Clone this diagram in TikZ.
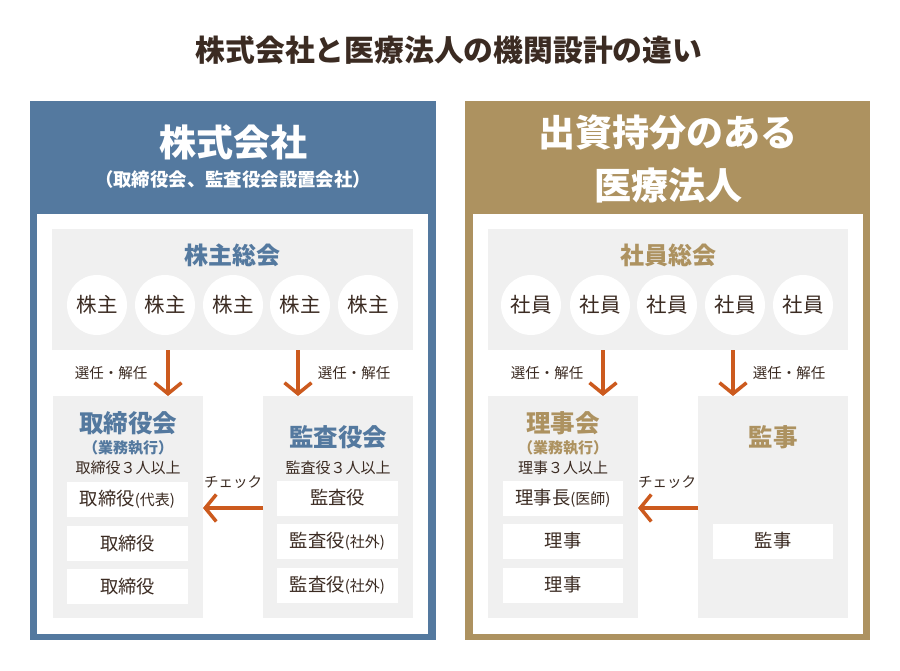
\documentclass[tikz,border=0pt]{standalone}
\usepackage{fontspec}
\setmainfont{Noto Sans CJK JP}
\usetikzlibrary{arrows.meta}
\definecolor{kaisyablue}{HTML}{54799F}
\definecolor{iryogold}{HTML}{AD9260}
\definecolor{boxgray}{HTML}{F0F0F0}
\definecolor{arrorange}{HTML}{CC5A1E}
\definecolor{inkbrown}{HTML}{3B2B22}
\newcommand{\fsz}[1]{\fontsize{#1}{#1}\selectfont}
\tikzset{
  plate/.style={inner sep=0pt, outer sep=0pt},
  pill/.style={plate, circle, fill=white, minimum size=60pt, text=inkbrown, font=\fsz{20.5}},
  slot/.style={plate, fill=white, minimum width=121pt, minimum height=35pt, text=inkbrown, font=\fsz{18.3}},
  pick/.style={inkbrown, font=\fsz{14.5}},
  arr/.style={draw=arrorange, line width=3.5pt, -{Straight Barb[length=11pt,width=27pt]}}
}
\begin{document}
\begin{tikzpicture}[x=1pt,y=-1pt]
\useasboundingbox[fill=white] (0,0) rectangle (900,671);
\node[text=inkbrown, font=\fsz{29.8}\bfseries] (ttl) at (449,50) {株式会社と医療法人の機関設計の違い};

\node[plate, fill=kaisyablue, minimum width=406pt, minimum height=539pt] (kp) at (233,370.5) {};
\node[plate, fill=white, minimum width=391pt, minimum height=420pt] (kw) at (232.5,424) {};
\node[text=white, font=\fsz{37}\bfseries] (kt) at (233,142) {株式会社};
\node[text=white, font=\fsz{18.4}\bfseries] (ks) at (233,180) {（取締役会、監査役会設置会社）};

\node[plate, fill=boxgray, minimum width=361pt, minimum height=121pt] (gm) at (232.5,289.5) {};
\node[text=kaisyablue, font=\fsz{24}\bfseries] (gmt) at (232.5,255) {株主総会};
\node[pill] (k1) at (97,305) {株主};
\node[pill] (k2) at (165,305) {株主};
\node[pill] (k3) at (233,305) {株主};
\node[pill] (k4) at (300,305) {株主};
\node[pill] (k5) at (368,305) {株主};

\node[plate, fill=boxgray, minimum width=150pt, minimum height=222pt] (tb) at (128,507) {};
\node[text=kaisyablue, font=\fsz{24.5}\bfseries] (tbt) at (128,423) {取締役会};
\node[text=kaisyablue, font=\fsz{15}\bfseries] (tbg) at (128,448) {（業務執行）};
\node[text=inkbrown, font=\fsz{15}] (tbn) at (128,468) {取締役３人以上};
\node[slot] (t1) at (127.5,499.5) {取締役{\fsz{15}(代表)}};
\node[slot] (t2) at (127.5,543.5) {取締役};
\node[slot] (t3) at (127.5,586.5) {取締役};

\node[plate, fill=boxgray, minimum width=150pt, minimum height=222pt] (ka) at (338,507) {};
\node[text=kaisyablue, font=\fsz{24.5}\bfseries] (kat) at (338,437) {監査役会};
\node[text=inkbrown, font=\fsz{15}] (kan) at (338,468) {監査役３人以上};
\node[slot] (a1) at (337.5,498) {監査役};
\node[slot] (a2) at (337.5,541) {監査役{\fsz{15}(社外)}};
\node[slot] (a3) at (337.5,585) {監査役{\fsz{15}(社外)}};

\coordinate (kx1) at (168,0);
\coordinate (kx2) at (298,0);
\coordinate (ky) at (0,508);
\draw[arr] (gm.south -| kx1) -- (tb.north -| kx1);
\draw[arr] (gm.south -| kx2) -- (ka.north -| kx2);
\draw[arr] (ka.west |- ky) -- (tb.east |- ky);
\node[pick] (ks1) at (111,373) {選任・解任};
\node[pick] (ks2) at (354,373) {選任・解任};
\node[pick] (kc) at (233,482) {チェック};

\node[plate, fill=iryogold, minimum width=405pt, minimum height=539pt] (ip) at (667.5,370.5) {};
\node[plate, fill=white, minimum width=390pt, minimum height=420pt] (iw) at (668,424) {};
\node[text=white, font=\fsz{37}\bfseries] (it1) at (668,133) {出資持分のある};
\node[text=white, font=\fsz{37}\bfseries] (it2) at (668,185) {医療法人};

\node[plate, fill=boxgray, minimum width=360pt, minimum height=121pt] (sm) at (668,289.5) {};
\node[text=iryogold, font=\fsz{24}\bfseries] (smt) at (668,255) {社員総会};
\node[pill] (s1) at (531,305) {社員};
\node[pill] (s2) at (600,305) {社員};
\node[pill] (s3) at (667,305) {社員};
\node[pill] (s4) at (735,305) {社員};
\node[pill] (s5) at (803,305) {社員};

\node[plate, fill=boxgray, minimum width=150pt, minimum height=222pt] (rj) at (563,507) {};
\node[text=iryogold, font=\fsz{24.5}\bfseries] (rjt) at (563,423) {理事会};
\node[text=iryogold, font=\fsz{15}\bfseries] (rjg) at (563,448) {（業務執行）};
\node[text=inkbrown, font=\fsz{15}] (rjn) at (563,468) {理事３人以上};
\node[slot, minimum width=120pt] (r1) at (563,498) {理事長{\fsz{15}(医師)}};
\node[slot, minimum width=120pt] (r2) at (563,541) {理事};
\node[slot, minimum width=120pt] (r3) at (563,585) {理事};

\node[plate, fill=boxgray, minimum width=150pt, minimum height=222pt] (kj) at (773,507) {};
\node[text=iryogold, font=\fsz{24.5}\bfseries] (kjt) at (773,437) {監事};
\node[slot, minimum width=120pt] (j1) at (773,541) {監事};

\coordinate (ix1) at (603,0);
\coordinate (ix2) at (733,0);
\draw[arr] (sm.south -| ix1) -- (rj.north -| ix1);
\draw[arr] (sm.south -| ix2) -- (kj.north -| ix2);
\draw[arr] (kj.west |- ky) -- (rj.east |- ky);
\node[pick] (is1) at (547,373) {選任・解任};
\node[pick] (is2) at (789,373) {選任・解任};
\node[pick] (ic) at (667,482) {チェック};
\end{tikzpicture}
\end{document}
